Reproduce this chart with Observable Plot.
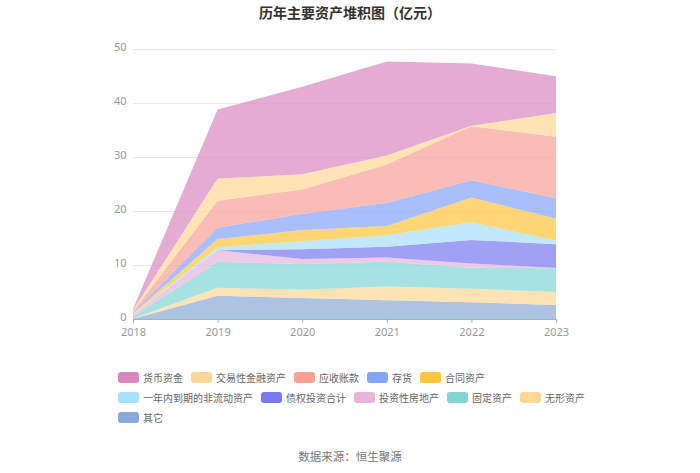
<!DOCTYPE html>
<html><head><meta charset="utf-8">
<script src="https://cdn.jsdelivr.net/npm/d3@7"></script>
<script src="https://cdn.jsdelivr.net/npm/@observablehq/plot@0.6"></script>
<style>
body{margin:0;background:#fff;font-family:"Noto Sans CJK SC","Noto Sans",sans-serif;width:700px;height:473px;overflow:hidden;position:relative}
#title{position:absolute;left:0;top:2px;width:700px;text-align:center;font-size:14px;font-weight:bold;color:#333;line-height:20px}
#chart{position:absolute;left:0;top:30px}
#legend{position:absolute;left:118px;top:369px;width:480px;display:flex;flex-wrap:wrap;row-gap:4px;column-gap:8px}
.item{display:flex;align-items:center;height:16px;font-size:10px;color:#666}
.sw{width:21px;height:11px;border-radius:3px;margin-right:4px}
#caption{position:absolute;left:0;top:448px;width:700px;text-align:center;font-size:11.5px;color:#777}
</style></head>
<body>
<div id="title">历年主要资产堆积图（亿元）</div>
<div id="chart"></div>
<div id="legend"></div>
<div id="caption">数据来源：恒生聚源</div>
<script>
const years = [2018, 2019, 2020, 2021, 2022, 2023];
const series = ["货币资金","交易性金融资产","应收账款","存货","合同资产","一年内到期的非流动资产","债权投资合计","投资性房地产","固定资产","无形资产","其它"];
const colors = ["#d987c1","#ffd795","#f9a097","#85a4fa","#ffc53b","#a7e0fa","#7879f0","#e8b4d9","#80d5d5","#ffd795","#8aaad9"];
const 货币资金 = [0.25, 12.8, 16.2, 17.4, 11.5, 6.8];
const 交易性金融资产 = [0.2, 4.1, 2.8, 1.7, 0.1, 4.4];
const 应收账款 = [0.2, 5.0, 4.5, 7.1, 10.0, 11.4];
const 存货 = [0.15, 2.1, 3.0, 4.3, 3.2, 3.8];
const 合同资产 = [0.15, 1.5, 2.1, 1.7, 4.6, 4.0];
const 一年内到期的非流动资产 = [0.1, 0.55, 1.5, 2.1, 3.25, 0.7];
const 债权投资合计 = [0, 0, 1.8, 2.0, 4.35, 4.4];
const 投资性房地产 = [0.4, 2.15, 0.9, 0.8, 0.8, 0.05];
const 固定资产 = [0.3, 4.8, 4.8, 4.6, 3.9, 4.4];
const 无形资产 = [0.05, 1.5, 1.5, 2.55, 2.5, 2.4];
const 其它 = [0.05, 4.3, 3.9, 3.45, 3.1, 2.6];
const valuesBySeries = {货币资金, 交易性金融资产, 应收账款, 存货, 合同资产, 一年内到期的非流动资产, 债权投资合计, 投资性房地产, 固定资产, 无形资产, 其它};
const yTicks = [0, 10, 20, 30, 40, 50];

const data = [];
series.slice().reverse().forEach(s => {
  years.forEach((yr, i) => data.push({year: yr, series: s, value: valuesBySeries[s][i]}));
});

const chart = Plot.plot({
  width: 700, height: 310,
  marginTop: 19, marginBottom: 21, marginLeft: 133, marginRight: 144,
  style: {fontFamily: "'Noto Sans', sans-serif", fontSize: "11px", color: "#999", background: "#fff"},
  x: {domain: [2018, 2023], label: null},
  y: {domain: [0, 50], label: null},
  color: {domain: series, range: colors},
  marks: [
    Plot.ruleY(yTicks.filter(d => d > 0), {stroke: "#e6e9f2", strokeWidth: 1}),
    Plot.areaY(data, {x: "year", y: "value", fill: "series", fillOpacity: 0.7, order: null}),
    Plot.ruleY([0], {stroke: "#aab0bd", strokeWidth: 1}),
    Plot.axisX({ticks: years, tickFormat: d => String(d), tickSize: 4, tickPadding: 5, stroke: "#aab0bd", fill: "#999", label: null}),
    Plot.axisY({ticks: yTicks, tickSize: 0, tickPadding: 7, dy: -2, fill: "#999", label: null})
  ]
});
document.getElementById("chart").appendChild(chart);

const legend = document.getElementById("legend");
series.forEach((s, i) => {
  const it = document.createElement("div");
  it.className = "item";
  const sw = document.createElement("div");
  sw.className = "sw";
  sw.style.background = colors[i];
  const t = document.createElement("span");
  t.textContent = s;
  it.appendChild(sw); it.appendChild(t);
  legend.appendChild(it);
});
</script>
</body></html>
